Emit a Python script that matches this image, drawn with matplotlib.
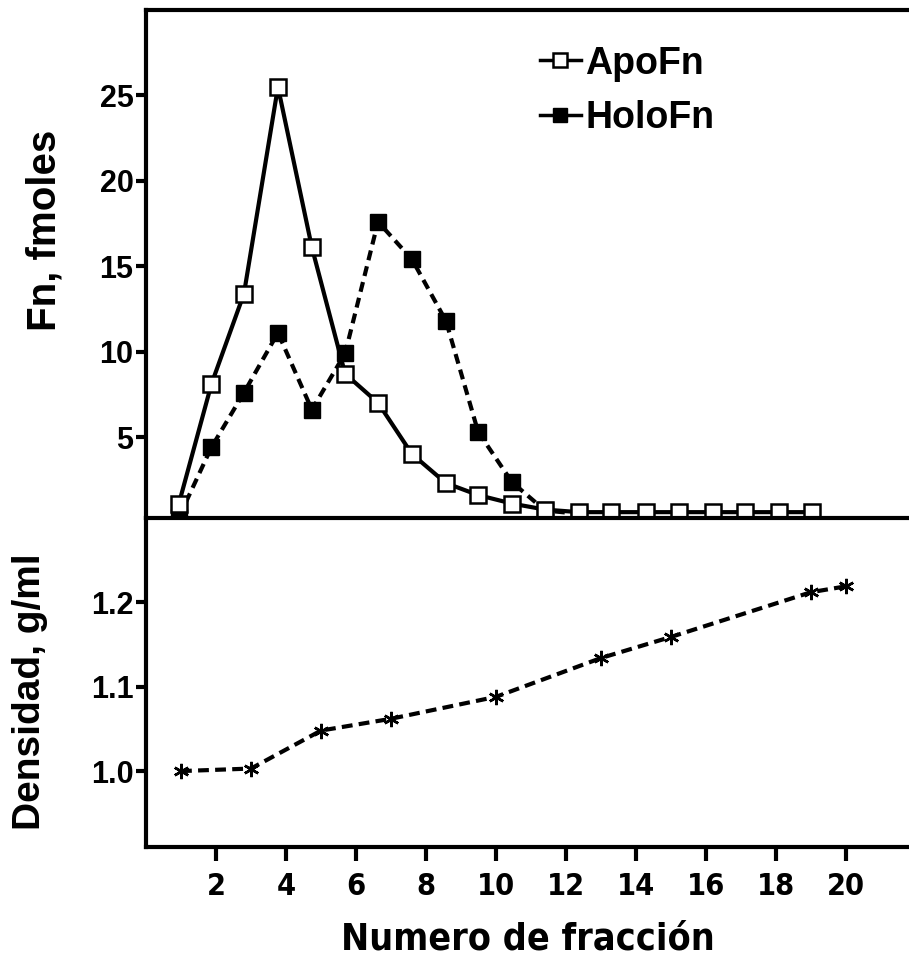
import numpy as np
import matplotlib.pyplot as plt
from matplotlib import font_manager

# fraction positions
frac = [0.94, 1.87, 2.8, 3.77, 4.74, 5.69, 6.63, 7.6, 8.57, 9.49,
        10.46, 11.4, 12.37, 13.3, 14.29, 15.23, 16.2, 17.11, 18.09, 19.03]
apo = [1.1, 8.1, 13.4, 25.5, 16.1, 8.7, 7.0, 4.0, 2.3, 1.6,
       1.1, 0.75, 0.6, 0.6, 0.6, 0.6, 0.6, 0.6, 0.6, 0.6]
holo = [0.3, 4.4, 7.6, 11.1, 6.6, 9.9, 17.6, 15.4, 11.8, 5.3, 2.35, 0.7, 0.5]

dens_x = [1, 3, 5, 7, 10, 13, 15, 19, 20]
dens = [1.0, 1.003, 1.048, 1.062, 1.088, 1.134, 1.159, 1.212, 1.219]

yt_top = [5, 10, 15, 20, 25]
yt_bot = [1.0, 1.1, 1.2]
xt = [2, 4, 6, 8, 10, 12, 14, 16, 18, 20]

plt.rcParams['font.family'] = ['Liberation Sans', 'DejaVu Sans']
plt.rcParams['font.weight'] = 'bold'

# narrow font for the x axis, if one is installed
narrow = None
for f in font_manager.fontManager.ttflist:
    if ('Narrow' in f.name or 'Condensed' in f.fname) and f.weight in ('bold', 700):
        narrow = font_manager.FontProperties(fname=f.fname)
        break

fig = plt.figure(figsize=(9.09, 9.56), dpi=100)
ax1 = fig.add_axes([0.1606, 0.4582, 0.8394, 0.5313])
ax2 = fig.add_axes([0.1606, 0.1140, 0.8394, 0.3442])

lw = 3
ax1.plot(frac, apo, '-', color='k', lw=lw, marker='s', ms=11, mfc='white',
         mec='k', mew=1.8, label='ApoFn', clip_on=False, zorder=4)
ax1.plot(frac[:len(holo)], holo, '--', color='k', lw=lw, dashes=(2.4, 1.5),
         marker='s', ms=11, mfc='k', mec='k', label='HoloFn', clip_on=False, zorder=3)

ax1.set_xlim(0, 21.8)
ax1.set_ylim(0.26, 30)
ax1.set_yticks(yt_top)
ax1.set_xticks([])
for s in ['right', 'bottom']:
    ax1.spines[s].set_visible(False)
for s in ['left', 'top']:
    ax1.spines[s].set_linewidth(3)
ax1.tick_params(axis='y', width=3, length=7, labelsize=22, pad=2)
ax1.set_ylabel('Fn, fmoles', fontsize=29, fontweight='bold')
ax1.yaxis.set_label_coords(-0.108, 0.567)

leg = ax1.legend(loc='upper left', bbox_to_anchor=(0.516, 0.93), frameon=False,
                 fontsize=27, handlelength=1.1, handletextpad=0.12,
                 labelspacing=0.5, borderpad=0, borderaxespad=0)
for h in leg.get_lines():
    h.set_linestyle('-')
    h.set_linewidth(2.5)
    h.set_markersize(10)

ax2.plot(dens_x, dens, '--', color='k', lw=3, dashes=(2.6, 1.5),
         marker=(6, 2, 0), ms=11, mew=1.8, clip_on=False)
ax2.set_xlim(0, 21.8)
ax2.set_ylim(0.91, 1.30)
ax2.set_yticks(yt_bot)
ax2.set_yticklabels(['1.0', '1.1', '1.2'])
ax2.set_xticks(xt)
ax2.spines['right'].set_visible(False)
for s in ['left', 'top', 'bottom']:
    ax2.spines[s].set_linewidth(3)
ax2.tick_params(axis='y', width=3, length=7, labelsize=22, pad=2)
ax2.tick_params(axis='x', width=3, length=10, labelsize=20, pad=8)
if narrow is not None:
    for t in ax2.get_xticklabels():
        t.set_fontproperties(narrow)
        t.set_fontsize(22)
    ax2.set_xlabel('Numero de fracción', fontproperties=narrow, fontsize=27, labelpad=15)
else:
    ax2.set_xlabel('Numero de fracción', fontsize=25, fontweight='bold', labelpad=15)
ax2.set_ylabel('Densidad, g/ml', fontsize=28, fontweight='bold')
ax2.yaxis.set_label_coords(-0.128, 0.473)

plt.savefig('out.png', dpi=100)
